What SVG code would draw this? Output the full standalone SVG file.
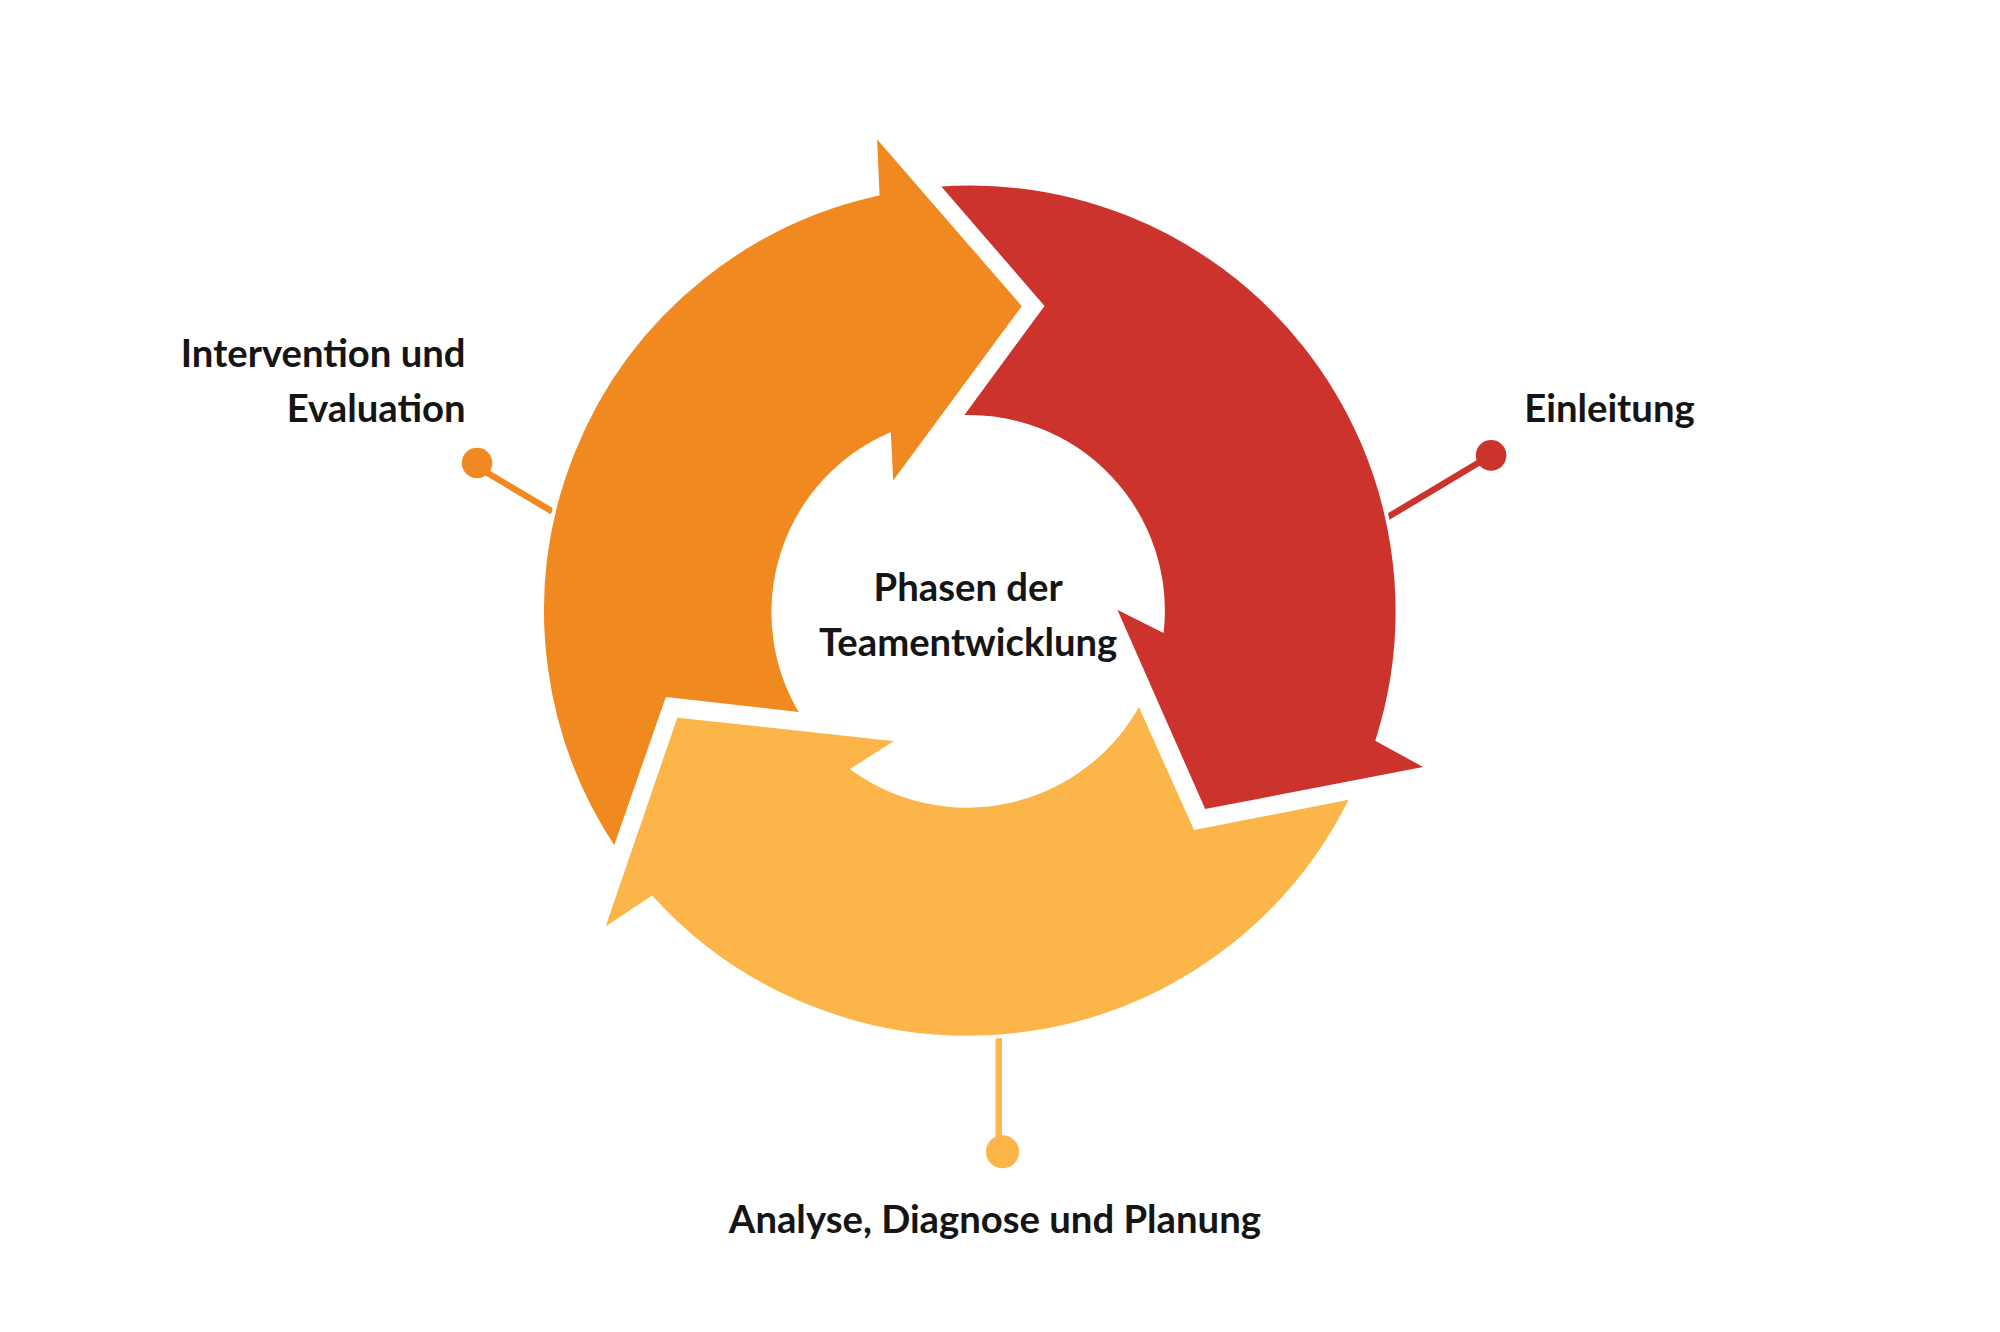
<svg xmlns="http://www.w3.org/2000/svg" width="2000" height="1332" viewBox="0 0 2000 1332">
<style>
.lbl{font-family:Lato,"Noto Sans","Liberation Sans",sans-serif;font-weight:bold;font-size:30px;fill:#151515}
.seg{stroke:#fff;stroke-width:3;stroke-linejoin:miter}
</style>
<rect width="2000" height="1332" fill="#fff"/>
<g transform="scale(1.27551)">
<g id="connectors">
<line x1="1087" y1="406" x2="1169" y2="357" stroke="#CC332D" stroke-width="5"/>
<circle cx="1169" cy="357" r="12" fill="#CC332D"/>
<line x1="433" y1="401" x2="374" y2="366" stroke="#F08A20" stroke-width="5"/>
<circle cx="374" cy="363" r="12" fill="#F08A20"/>
<line x1="783" y1="810" x2="783" y2="892" stroke="#FBB549" stroke-width="5"/>
<circle cx="786" cy="903" r="13" fill="#FBB549"/>
</g>
<g id="einleitung">
<path class="seg" fill="#CC332D" d="M735,145 A335,335 0 0 1 1080,580 L1120,602 L944,636 L873,475 L911,494 A152,152 0 0 0 753,327 L817,240 Z"/>
<text class="lbl" x="1195" y="331">Einleitung</text>
</g>
<g id="intervention">
<path class="seg" fill="#F08A20" d="M482,666 A335,335 0 0 1 688,152 L686,105 L803,240 L699,381 L697,341 A152,152 0 0 0 629,560 L523,548 Z"/>
<text class="lbl" x="365" y="288" text-anchor="end">Intervention und</text>
<text class="lbl" x="365" y="331" text-anchor="end">Evaluation</text>
</g>
<g id="analyse">
<path class="seg" fill="#FBB549" d="M1060,625 A335,335 0 0 1 511,704 L472,730 L530,561 L705,580 L669,603 A153,153 0 0 0 893,551 L937,649 Z"/>
<text class="lbl" x="780" y="967" text-anchor="middle">Analyse, Diagnose und Planung</text>
</g>
<g id="center">
<text class="lbl" x="759" y="471" text-anchor="middle">Phasen der</text>
<text class="lbl" x="759" y="514" text-anchor="middle">Teamentwicklung</text>
</g>
</g>
</svg>
